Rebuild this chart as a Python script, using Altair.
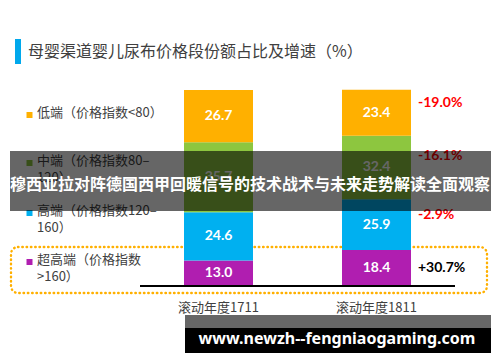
import altair as alt
import pandas as pd

# ---------------- data ----------------
title_text = "母婴渠道婴儿尿布价格段份额占比及增速（%）"
categories = ["滚动年度1711", "滚动年度1811"]
segments = ["超高端", "高端", "中端", "低端"]  # bottom -> top
segment_colors = ["#B01EB0", "#00B0F0", "#8DC63F", "#FFB000"]
values_1711 = [13.0, 24.6, 35.7, 26.7]
values_1811 = [18.4, 25.9, 32.4, 23.4]
growth_labels = ["+30.7%", "-2.9%", "-16.1%", "-19.0%"]
growth_colors = ["#000000", "#FF0000", "#FF0000", "#FF0000"]
growth_pos = [9.2, 36.0, 66.5, 93.5]
legend_labels = ["超高端（价格指数\n>160）", "高端（价格指数120–\n160）",
                 "中端（价格指数80–\n120）", "低端（价格指数<80）"]
legend_py = [254, 205, 155, 107]
banner_text = "穆西亚拉对阵德国西甲回暖信号的技术战术与未来走势解读全面观察"
watermark_text = "www.newzh--fengniaogaming.com"

FONT = "Noto Sans CJK SC"
NUM_FONT = "Lato"

rows = []
for cat, vals in zip(categories, [values_1711, values_1811]):
    base = 0.0
    for i, (seg, v) in enumerate(zip(segments, vals)):
        rows.append({"cat": cat, "seg": seg, "value": v, "y0": base,
                     "y1": base + v, "mid": base + v / 2, "ord": i})
        base += v
bars_df = pd.DataFrame(rows)

xscale = alt.Scale(domain=categories, range=[131.5, 447.5], paddingInner=0, paddingOuter=0)
yscale = alt.Scale(domain=[0, 100], range=[278, 82], nice=False, zero=True)
one = alt.Data(values=[{"a": 1}])

# dotted rounded frame (behind bars)
frame = alt.Chart(one).mark_rect(
    filled=False, stroke="#FFB000", strokeWidth=2.4, strokeDash=[0.5, 3.8],
    strokeCap="round", cornerRadius=7
).encode(x=alt.value(3), x2=alt.value(479), y=alt.value(239), y2=alt.value(285))

bars = alt.Chart(bars_df).mark_bar(size=69).encode(
    x=alt.X("cat:N", scale=xscale, axis=None),
    y=alt.Y("y0:Q", scale=yscale, axis=None),
    y2="y1:Q",
    color=alt.Color("seg:N", scale=alt.Scale(domain=segments, range=segment_colors), legend=None),
    order=alt.Order("ord:Q"),
)

bar_text = alt.Chart(bars_df).mark_text(
    color="white", fontWeight="bold", fontSize=14, font=NUM_FONT
).encode(
    x=alt.X("cat:N", scale=xscale, axis=None, bandPosition=0.5),
    y=alt.Y("mid:Q", scale=yscale, axis=None),
    text=alt.Text("value:Q", format=".1f"),
)

baseline = alt.Chart(one).mark_rule(color="black", strokeWidth=2).encode(
    x=alt.value(132), x2=alt.value(447), y=alt.value(278))

cat_df = pd.DataFrame({"cat": categories})
x_labels = alt.Chart(cat_df).mark_text(
    fontSize=13, color="#404040", font=FONT
).encode(
    x=alt.X("cat:N", scale=xscale, axis=None, bandPosition=0.5),
    y=alt.value(300),
    text="cat:N",
)

growth_df = pd.DataFrame({"label": growth_labels, "color": growth_colors, "pos": growth_pos})
growth = alt.Chart(growth_df).mark_text(
    align="left", fontWeight="bold", fontSize=14, font=NUM_FONT
).encode(
    x=alt.value(410),
    y=alt.Y("pos:Q", scale=yscale, axis=None),
    text="label:N",
    color=alt.Color("color:N", scale=None),
)

leg_df = pd.DataFrame({"label": legend_labels, "py": legend_py, "color": segment_colors})
leg_sq = alt.Chart(leg_df).mark_square(size=36, opacity=1).encode(
    x=alt.value(21.5),
    y=alt.Y("py:Q", scale=None, axis=None),
    color=alt.Color("color:N", scale=None),
)
leg_txt = alt.Chart(leg_df).mark_text(
    align="left", baseline="top", dy=-8, lineBreak="\n", lineHeight=17,
    fontSize=13, color="#404040", font=FONT
).encode(
    x=alt.value(29),
    y=alt.Y("py:Q", scale=None, axis=None),
    text="label:N",
)

title_bar = alt.Chart(one).mark_rect(color="#00A8EC").encode(
    x=alt.value(7), x2=alt.value(13), y=alt.value(31), y2=alt.value(56))
title_df = pd.DataFrame({"t": [title_text]})
title = alt.Chart(title_df).mark_text(
    align="left", baseline="middle", fontSize=16, color="#404040", font=FONT
).encode(x=alt.value(20), y=alt.value(44), text="t:N")

banner = alt.Chart(one).mark_rect(color="black", opacity=0.6).encode(
    x=alt.value(2), x2=alt.value(483), y=alt.value(143), y2=alt.value(203))
banner_df = pd.DataFrame({"t": [banner_text]})
banner_txt = alt.Chart(banner_df).mark_text(
    align="center", baseline="middle", fontSize=16, fontWeight="bold", color="white", font=FONT
).encode(x=alt.value(242), y=alt.value(177), text="t:N")

wm_gray = alt.Chart(one).mark_rect(color="#666666").encode(
    x=alt.value(177), x2=alt.value(483), y=alt.value(307), y2=alt.value(320))
wm_black = alt.Chart(one).mark_rect(color="black").encode(
    x=alt.value(177), x2=alt.value(483), y=alt.value(320), y2=alt.value(345))
wm_df = pd.DataFrame({"t": [watermark_text]})
wm_txt = alt.Chart(wm_df).mark_text(
    align="center", baseline="middle", fontSize=16, fontWeight="bold", color="white", font="Noto Sans"
).encode(x=alt.value(329), y=alt.value(331), text="t:N")

chart = alt.layer(
    frame, bars, bar_text, baseline, x_labels, growth, leg_sq, leg_txt,
    title_bar, title, banner, banner_txt, wm_gray, wm_black, wm_txt
).properties(
    width=484, height=346, padding=0,
    autosize=alt.AutoSizeParams(type="none"),
).configure_view(stroke=None)

chart.save("out.html", embed_options={"renderer": "svg", "actions": False})
